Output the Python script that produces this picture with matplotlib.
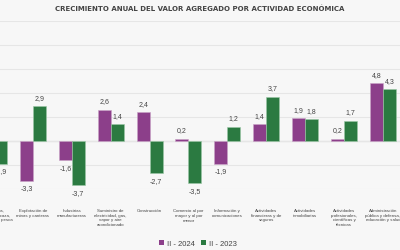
import matplotlib
matplotlib.use("Agg")
import matplotlib.pyplot as plt
from matplotlib.patches import Patch
import numpy as np

categories = [
    "Agricultura,\nganadería, caza,\nsilvicultura y pesca",
    "Explotación de\nminas y canteras",
    "Industrias\nmanufactureras",
    "Suministro de\nelectricidad, gas,\nvapor y aire\nacondicionado",
    "Construcción",
    "Comercio al por\nmayor y al por\nmenor",
    "Información y\ncomunicaciones",
    "Actividades\nfinancieras y de\nseguros",
    "Actividades\ninmobiliarias",
    "Actividades\nprofesionales,\ncientíficas y\ntécnicas",
    "Administración\npública y defensa,\neducación y salud",
]
series_2024 = [1.0, -3.3, -1.6, 2.6, 2.4, 0.2, -1.9, 1.4, 1.9, 0.2, 4.8]
series_2023 = [-1.9, 2.9, -3.7, 1.4, -2.7, -3.5, 1.2, 3.7, 1.8, 1.7, 4.3]
series_names = ["II - 2024", "II - 2023"]
title = "CRECIMIENTO ANUAL DEL VALOR AGREGADO POR ACTIVIDAD ECONÓMICA"

PURPLE = "#8c3f8a"
GREEN = "#2b7a41"
BG = "#f7f7f7"
TXT = "#444444"

fig = plt.figure(figsize=(4, 2.5), dpi=100, facecolor=BG)
ax = fig.add_axes([0, 0.244, 1, 0.672])
ax.set_facecolor(BG)

x = np.arange(len(categories))
w = 0.334
b1 = ax.bar(x - w / 2, series_2024, w, color=PURPLE, edgecolor="#c9a3c7", linewidth=0.4, zorder=3)
b2 = ax.bar(x + w / 2, series_2023, w, color=GREEN, edgecolor="#9cc8a6", linewidth=0.4, zorder=3)

for bars, vals in ((b1, series_2024), (b2, series_2023)):
    for r, v in zip(bars, vals):
        off = 5.8 if v >= 0 else -5.8
        ax.annotate(f"{v:.1f}".replace(".", ","), (r.get_x() + r.get_width() / 2, v),
                    xytext=(0, off), textcoords="offset points", ha="center", va="center",
                    fontsize=5, color=TXT, family="Liberation Sans", zorder=4)

ax.set_xlim(0.154, 10.44)
ax.set_ylim(-4, 10)
ax.set_yticks(np.arange(-4, 11, 2))
ax.grid(axis="y", color="#e6e6e6", linewidth=0.8, zorder=0)
ax.axhline(0, color="#d6d6d6", linewidth=0.9, zorder=1)
for s in ax.spines.values():
    s.set_visible(False)
ax.tick_params(left=False, bottom=False, labelleft=False, labelbottom=False)

for xi, lab in zip(x, categories):
    ax.annotate(lab, (xi, 1 - 209 / 250), xycoords=("data", "figure fraction"),
                ha="center", va="top", fontsize=3.2, color=TXT,
                family="Liberation Sans", linespacing=1.25, annotation_clip=False)

fig.text(0.5, 1 - 9 / 250, title, ha="center", va="center", fontsize=5.0,
         fontweight="bold", color=TXT, family="Liberation Sans Narrow")

handles = [Patch(facecolor=PURPLE, edgecolor="none"), Patch(facecolor=GREEN, edgecolor="none")]
fig.legend(handles, series_names, loc="center", bbox_to_anchor=(0.495, 1 - 244 / 250),
           ncol=2, frameon=False, handlelength=0.6, handleheight=0.6,
           handletextpad=0.4, columnspacing=0.8, labelcolor=TXT,
           prop={"family": "Liberation Sans", "size": 5.5})

fig.savefig("out.png", dpi=100, facecolor=BG)
